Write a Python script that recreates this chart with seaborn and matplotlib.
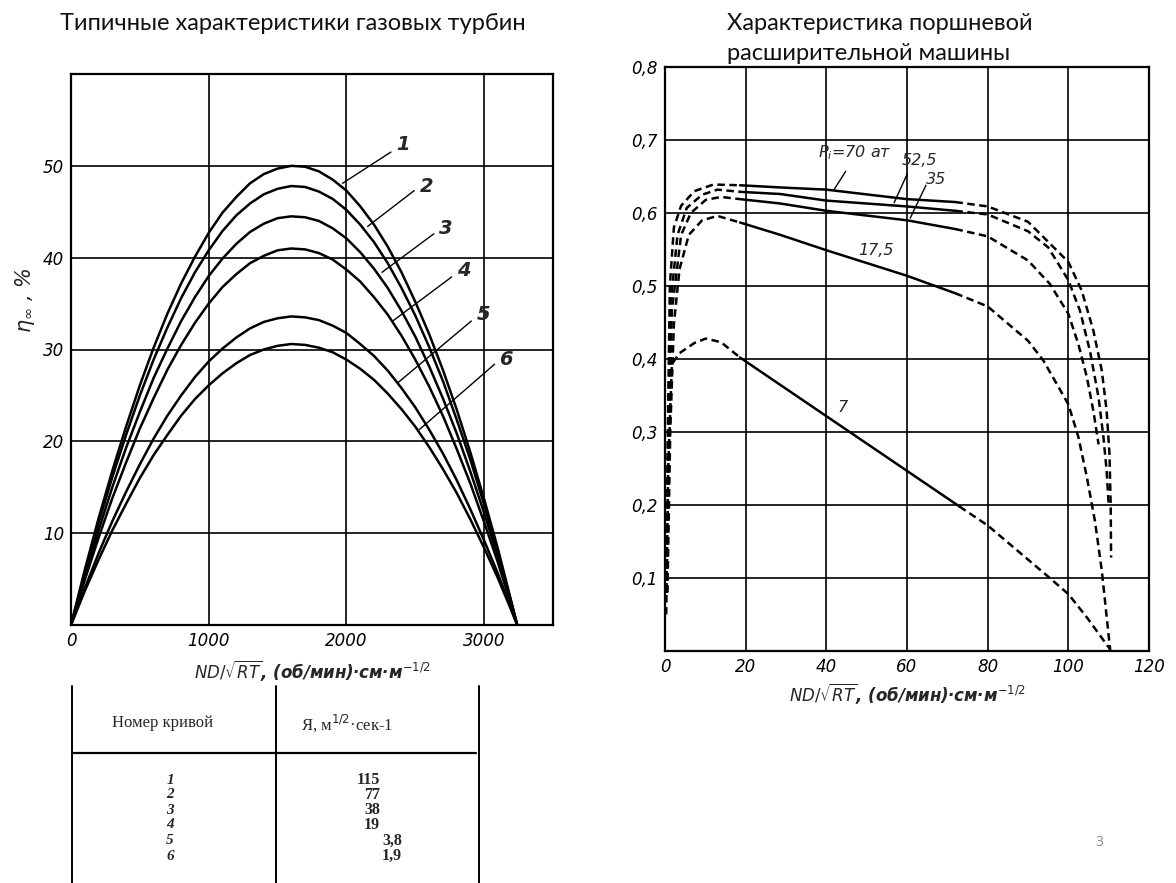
import numpy as np
import pandas as pd
import matplotlib
matplotlib.use("Agg")
import matplotlib.pyplot as plt
import seaborn as sns
from matplotlib.lines import Line2D

# ---------------- data: gas turbines (left) ----------------
turb_x = [0, 100, 200, 300, 400, 500, 600, 700, 800, 900, 1000, 1100, 1200,
          1300, 1400, 1500, 1600, 1700, 1800, 1900, 2000, 2100, 2200, 2300,
          2400, 2500, 2600, 2700, 2800, 2900, 3000, 3100, 3200, 3240]
turb_c1 = [0, 6.0, 11.6, 16.8, 21.6, 26.1, 30.2, 33.9, 37.2, 40.1, 42.7, 44.9,
           46.6, 48.1, 49.1, 49.7, 50.0, 49.9, 49.4, 48.5, 47.3, 45.6, 43.6,
           41.2, 38.4, 35.2, 31.7, 27.8, 23.5, 18.8, 13.7, 8.3, 2.4, 0]
turb_c2 = [0, 5.7, 11.1, 16.1, 20.7, 25.0, 28.9, 32.4, 35.6, 38.4, 40.8, 42.9,
           44.6, 45.9, 46.9, 47.5, 47.8, 47.7, 47.2, 46.4, 45.2, 43.6, 41.7,
           39.4, 36.7, 33.7, 30.3, 26.6, 22.4, 18.0, 13.1, 7.9, 2.3, 0]
turb_c3 = [0, 5.3, 10.3, 15.0, 19.3, 23.2, 26.9, 30.1, 33.1, 35.7, 38.0, 39.9,
           41.5, 42.8, 43.7, 44.3, 44.5, 44.4, 44.0, 43.2, 42.1, 40.6, 38.8,
           36.7, 34.2, 31.4, 28.2, 24.7, 20.9, 16.7, 12.2, 7.4, 2.2, 0]
turb_c4 = [0, 4.9, 9.5, 13.8, 17.7, 21.4, 24.7, 27.8, 30.5, 32.9, 35.0, 36.8,
           38.2, 39.4, 40.2, 40.8, 41.0, 40.9, 40.5, 39.8, 38.7, 37.4, 35.7,
           33.8, 31.5, 28.9, 26.0, 22.8, 19.2, 15.4, 11.2, 6.8, 2.0, 0]
turb_c5 = [0, 4.0, 7.8, 11.3, 14.5, 17.5, 20.3, 22.8, 25.0, 27.0, 28.7, 30.1,
           31.3, 32.3, 33.0, 33.4, 33.6, 33.5, 33.2, 32.6, 31.8, 30.6, 29.3,
           27.7, 25.8, 23.7, 21.3, 18.7, 15.8, 12.6, 9.2, 5.6, 1.6, 0]
turb_c6 = [0, 3.7, 7.1, 10.3, 13.2, 16.0, 18.5, 20.7, 22.8, 24.6, 26.1, 27.4,
           28.5, 29.4, 30.0, 30.4, 30.6, 30.5, 30.2, 29.7, 28.9, 27.9, 26.7,
           25.2, 23.5, 21.6, 19.4, 17.0, 14.4, 11.5, 8.4, 5.1, 1.5, 0]
turb_names = ["1", "2", "3", "4", "5", "6"]
# leader lines: point on curve -> label
turb_anchor_x = [1972, 2154, 2258, 2336, 2375, 2531]
turb_anchor_y = [48.1, 43.4, 38.4, 33.1, 26.4, 21.3]
turb_end_x = [2323, 2492, 2635, 2764, 2907, 3076]
turb_end_y = [51.5, 47.3, 42.6, 37.9, 33.1, 28.4]
turb_label_x = [2360, 2530, 2672, 2800, 2945, 3110]
turb_label_y = [52.3, 47.8, 43.2, 38.6, 33.8, 28.9]
turb_xticks = [0, 1000, 2000, 3000]
turb_yticks = [10, 20, 30, 40, 50]

# table under the left chart
table_curve = ["1", "2", "3", "4", "5", "6"]
table_k = ["115", "77", "38", "19", "3,8", "1,9"]

# ---------------- data: piston expander (right) ----------------
p70_x = [0.3, 0.7, 1.2, 2.2, 4.0, 7.3, 12, 18.6, 28.6, 40, 60, 72, 80, 90, 100,
         103.3, 106.2, 108.3, 109.5, 110.2, 110.5, 110.6]
p70_y = [0.08, 0.30, 0.50, 0.58, 0.61, 0.63, 0.639, 0.638, 0.635, 0.632, 0.619,
         0.615, 0.609, 0.588, 0.533, 0.494, 0.439, 0.384, 0.329, 0.27, 0.20, 0.128]
p52_x = [0.4, 0.8, 1.4, 3.1, 5.4, 9.2, 13, 18.6, 28.6, 40, 60, 72, 80, 90, 95,
         100, 102.9, 105.4, 107.5, 108.7, 109.5, 110]
p52_y = [0.08, 0.30, 0.477, 0.57, 0.607, 0.625, 0.632, 0.629, 0.626, 0.617,
         0.609, 0.603, 0.598, 0.575, 0.553, 0.508, 0.466, 0.41, 0.347, 0.293,
         0.247, 0.20]
p35_x = [0.5, 1.0, 1.7, 4.0, 6.4, 10.1, 13.9, 18.6, 28.6, 40, 60, 72, 80, 90,
         95.4, 100, 102.5, 104.6, 106.2, 107.5]
p35_y = [0.08, 0.30, 0.466, 0.57, 0.60, 0.618, 0.622, 0.619, 0.613, 0.603, 0.590,
         0.578, 0.568, 0.535, 0.503, 0.462, 0.42, 0.375, 0.329, 0.283]
p17_x = [0.6, 1.3, 2.2, 3.6, 5.9, 9.2, 13, 18.6, 28.6, 40, 60, 72, 80, 90, 93.8,
         100, 102.5, 104.6, 106.6, 108.3, 110.4]
p17_y = [0.08, 0.30, 0.448, 0.523, 0.57, 0.59, 0.596, 0.587, 0.570, 0.549,
         0.514, 0.49, 0.472, 0.425, 0.398, 0.338, 0.293, 0.238, 0.178, 0.11, 0.0]
p7_x = [0.3, 0.8, 1.7, 3.6, 7.3, 10.1, 13.9, 18.6, 73, 80, 83, 95.4, 100, 104.6,
        110.4]
p7_y = [0.05, 0.25, 0.393, 0.408, 0.422, 0.428, 0.423, 0.402, 0.198, 0.172,
        0.158, 0.10, 0.078, 0.046, 0.002]
solid_lo = [18.6, 18.6, 18.6, 18.6, 18.6]
solid_hi = [72, 72, 72, 72, 73]
exp_xticks = [0, 20, 40, 60, 80, 100, 120]
exp_yticks = [0.1, 0.2, 0.3, 0.4, 0.5, 0.6, 0.7, 0.8]
exp_yticklabels = ["0,1", "0,2", "0,3", "0,4", "0,5", "0,6", "0,7", "0,8"]
exp_labels = [r"$P_i$=70 ат", "52,5", "35", "17,5", "7"]
exp_label_x = [47.0, 63.0, 67.3, 52.2, 44.0]
exp_label_y = [0.683, 0.672, 0.646, 0.548, 0.334]
exp_lead_x0 = [41.9, 56.8, 60.8]
exp_lead_y0 = [0.632, 0.614, 0.593]
exp_lead_x1 = [44.8, 60.1, 64.7]
exp_lead_y1 = [0.657, 0.654, 0.638]

# ---------------- figure ----------------
sns.set_style("white")
plt.rcParams['font.family'] = ['DejaVu Sans']
W, H = 1176, 883
fig = plt.figure(figsize=(W / 100, H / 100), dpi=100)
fig.patch.set_facecolor("white")

axL = fig.add_axes([71 / W, 1 - 625 / H, (553 - 71) / W, (625 - 74) / H])
axR = fig.add_axes([665 / W, 1 - 651 / H, (1149 - 665) / W, (651 - 67) / H])

tick_font = dict(fontstyle="italic", fontsize=12, color="black")

# ---- left chart ----
turb_df = pd.DataFrame({"x": turb_x, "1": turb_c1, "2": turb_c2, "3": turb_c3,
                        "4": turb_c4, "5": turb_c5, "6": turb_c6})
turb_long = turb_df.melt(id_vars="x", var_name="curve", value_name="eta")
sns.lineplot(data=turb_long, x="x", y="eta", units="curve", estimator=None,
             color="black", lw=1.8, ax=axL, legend=False)
axL.set_xlim(0, 3500)
axL.set_ylim(0, 60)
axL.set_xticks(turb_xticks)
axL.set_yticks(turb_yticks)
axL.set_xticklabels([str(v) for v in turb_xticks], **tick_font)
axL.set_yticklabels([str(v) for v in turb_yticks], **tick_font)
axL.grid(True, color="black", lw=1.2)
axL.tick_params(length=0, pad=5)
for ax_x0, ax_y0, ax_x1, ax_y1, lx, ly, nm in zip(turb_anchor_x, turb_anchor_y,
                                                turb_end_x, turb_end_y,
                                                turb_label_x, turb_label_y,
                                                turb_names):
    axL.plot([ax_x0, ax_x1], [ax_y0, ax_y1], color="black", lw=1.0)
    axL.text(lx, ly, nm, fontstyle="italic", fontweight="bold", fontsize=14,
             ha="left", va="center")
axL.set_xlabel(r"$ND/\sqrt{RT}$, (об/мин)·см·м$^{-1/2}$", fontstyle="italic",
               fontweight="bold", fontsize=12, labelpad=6)
axL.set_ylabel("")
fig.text(25 / W, 1 - 300 / H, r"$\eta_\infty$ , %", rotation=90, ha="center",
         va="center", fontsize=15, fontstyle="italic")

# ---- right chart ----
exp_sets = [(p70_x, p70_y), (p52_x, p52_y), (p35_x, p35_y), (p17_x, p17_y),
            (p7_x, p7_y)]
for (xs, ys), lo, hi in zip(exp_sets, solid_lo, solid_hi):
    xs = np.array(xs)
    ys = np.array(ys)
    left = xs <= lo
    mid = (xs >= lo) & (xs <= hi)
    right = xs >= hi
    sns.lineplot(x=xs[left], y=ys[left], color="black", lw=1.8, ax=axR,
                 sort=False).lines[-1].set_dashes([3, 1.8])
    sns.lineplot(x=xs[mid], y=ys[mid], color="black", lw=1.8, ax=axR, sort=False)
    sns.lineplot(x=xs[right], y=ys[right], color="black", lw=1.8, ax=axR,
                 sort=False).lines[-1].set_dashes([3, 1.8])
axR.set_xlim(0, 120)
axR.set_ylim(0, 0.8)
axR.set_xticks(exp_xticks)
axR.set_yticks(exp_yticks)
axR.set_xticklabels([str(v) for v in exp_xticks], **tick_font)
axR.set_yticklabels(exp_yticklabels, **tick_font)
axR.grid(True, color="black", lw=1.2)
axR.tick_params(length=0, pad=5)
for lbl, lx, ly in zip(exp_labels, exp_label_x, exp_label_y):
    axR.text(lx, ly, lbl, fontstyle="italic", fontsize=11.5, ha="center",
             va="center")
for x0, y0, x1, y1 in zip(exp_lead_x0, exp_lead_y0, exp_lead_x1, exp_lead_y1):
    axR.plot([x0, x1], [y0, y1], color="black", lw=1.0)
axR.set_xlabel(r"$ND/\sqrt{RT}$, (об/мин)·см·м$^{-1/2}$", fontstyle="italic",
               fontweight="bold", fontsize=12, labelpad=4)
axR.set_ylabel("")

for ax in (axL, axR):
    for sp in ax.spines.values():
        sp.set_color("black")
        sp.set_linewidth(1.6)

# ---- titles ----
title_font = dict(fontsize=17, family=["Lato", "DejaVu Sans"], color="#111111")
fig.text(293 / W, 1 - 24 / H, "Типичные характеристики газовых турбин",
         ha="center", va="center", **title_font)
fig.text(727 / W, 1 - 24 / H, "Характеристика поршневой", ha="left",
         va="center", **title_font)
fig.text(727 / W, 1 - 54 / H, "расширительной машины", ha="left",
         va="center", **title_font)

# ---- table ----
def fline(x0, y0, x1, y1, lw=1.4):
    fig.add_artist(Line2D([x0 / W, x1 / W], [1 - y0 / H, 1 - y1 / H],
                          transform=fig.transFigure, color="black", lw=lw))

fline(72, 686, 72, 883)
fline(276, 686, 276, 883)
fline(479, 686, 479, 883)
fline(73, 753, 476, 753, lw=1.6)
serif = ["Liberation Serif", "DejaVu Serif"]
fig.text(163 / W, 1 - 723 / H, "Номер кривой", ha="center", va="center",
         fontsize=12, family=serif)
fig.text(347 / W, 1 - 723 / H, "Я, м$^{1/2}$·сек-1", ha="center", va="center",
         fontsize=12, family=serif)
row_y = [780, 795, 810, 825, 841, 856]
for num, kv, ry in zip(table_curve, table_k, row_y):
    fig.text(170 / W, 1 - ry / H, num, ha="center", va="center", fontsize=11,
             family=serif, fontstyle="italic", fontweight="bold")
    xr = 402 if "," in kv else 380
    fig.text(xr / W, 1 - ry / H, kv, ha="right", va="center", fontsize=11.5,
             family=serif, fontweight="bold")

fig.text(1099 / W, 1 - 842 / H, "3", ha="center", va="center", fontsize=10,
         color="#8c8c8c", family="Open Sans")

fig.savefig("out.png", dpi=100, facecolor="white")
